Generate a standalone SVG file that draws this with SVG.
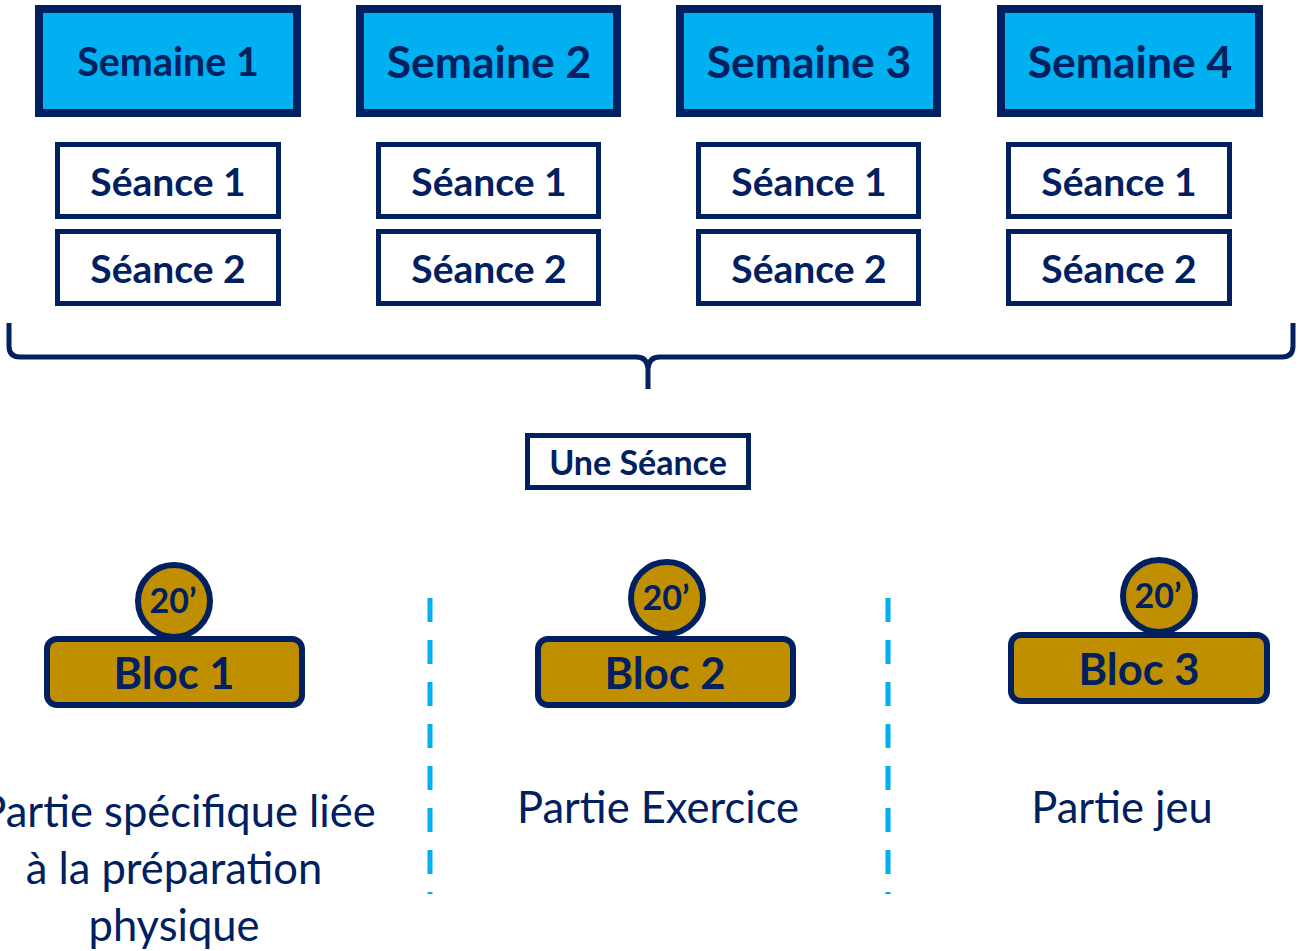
<svg xmlns="http://www.w3.org/2000/svg" width="1303" height="951" viewBox="0 0 1303 951">
<style>
.wk{fill:#00B0F0;stroke:#002060;stroke-width:8}
.sc{fill:#fff;stroke:#002060;stroke-width:5}
.bl{fill:#BF8F00;stroke:#002060;stroke-width:6}
.t{font-family:Lato,"Liberation Sans",sans-serif;fill:#002060;text-anchor:middle}
.b{font-weight:bold}
.dash{stroke:#00B0F0;stroke-width:5;stroke-dasharray:24 18;fill:none}
</style>
<rect width="1303" height="951" fill="#fff"/>
<g id="semaine1"><rect class="wk" x="39" y="9" width="258" height="104"/><text class="t b" x="168" y="76" font-size="39.5">Semaine 1</text></g>
<g id="semaine2"><rect class="wk" x="360" y="9" width="257" height="104"/><text class="t b" x="489" y="78" font-size="44.5">Semaine 2</text></g>
<g id="semaine3"><rect class="wk" x="680" y="9" width="257" height="104"/><text class="t b" x="809" y="78" font-size="44.5">Semaine 3</text></g>
<g id="semaine4"><rect class="wk" x="1001" y="9" width="258" height="104"/><text class="t b" x="1130" y="78" font-size="44.5">Semaine 4</text></g>
<g id="s1a"><rect class="sc" x="57.5" y="144.5" width="221" height="72"/><text class="t b" x="168" y="196" font-size="39">Séance 1</text></g>
<g id="s1b"><rect class="sc" x="57.5" y="231.5" width="221" height="72"/><text class="t b" x="168" y="283" font-size="39">Séance 2</text></g>
<g id="s2a"><rect class="sc" x="378.5" y="144.5" width="220" height="72"/><text class="t b" x="489" y="196" font-size="39">Séance 1</text></g>
<g id="s2b"><rect class="sc" x="378.5" y="231.5" width="220" height="72"/><text class="t b" x="489" y="283" font-size="39">Séance 2</text></g>
<g id="s3a"><rect class="sc" x="698.5" y="144.5" width="220" height="72"/><text class="t b" x="809" y="196" font-size="39">Séance 1</text></g>
<g id="s3b"><rect class="sc" x="698.5" y="231.5" width="220" height="72"/><text class="t b" x="809" y="283" font-size="39">Séance 2</text></g>
<g id="s4a"><rect class="sc" x="1008.5" y="144.5" width="221" height="72"/><text class="t b" x="1119" y="196" font-size="39">Séance 1</text></g>
<g id="s4b"><rect class="sc" x="1008.5" y="231.5" width="221" height="72"/><text class="t b" x="1119" y="283" font-size="39">Séance 2</text></g>
<g id="connectors">
<path d="M9,323 V346 Q9,357 20,357 H636 Q647,357 648,368 V389 M648,368 Q649,357 660,357 H1282 Q1293,357 1293,346 V323" fill="none" stroke="#002060" stroke-width="5"/>
<line class="dash" x1="430" y1="598" x2="430" y2="894"/>
<line class="dash" x1="888" y1="598" x2="888" y2="894"/>
</g>
<g id="uneseance"><rect class="sc" x="527.5" y="435.5" width="221" height="52"/><text class="t b" x="638" y="475" font-size="34">Une Séance</text></g>
<g id="bloc1"><rect class="bl" x="47" y="639" width="255" height="66" rx="10"/><circle class="bl" cx="174" cy="601" r="36"/><text class="t b" x="173" y="613" font-size="34">20’</text><text class="t b" x="174" y="689" font-size="43.5">Bloc 1</text></g>
<g id="bloc2"><rect class="bl" x="538" y="639" width="255" height="66" rx="10"/><circle class="bl" cx="667" cy="598" r="36"/><text class="t b" x="666" y="610" font-size="34">20’</text><text class="t b" x="665" y="689" font-size="43.5">Bloc 2</text></g>
<g id="bloc3"><rect class="bl" x="1011" y="635" width="256" height="66" rx="10"/><circle class="bl" cx="1159" cy="596" r="36"/><text class="t b" x="1158" y="608" font-size="34">20’</text><text class="t b" x="1139" y="685" font-size="43.5">Bloc 3</text></g>
<g id="texte1"><text class="t" font-size="43.5"><tspan x="178" y="827">Partie spécifique liée</tspan><tspan x="174" y="884">à la préparation</tspan><tspan x="174" y="941">physique</tspan></text></g>
<g id="texte2"><text class="t" x="658" y="823" font-size="43.5">Partie Exercice</text></g>
<g id="texte3"><text class="t" x="1122" y="823" font-size="43.5">Partie jeu</text></g>
</svg>
